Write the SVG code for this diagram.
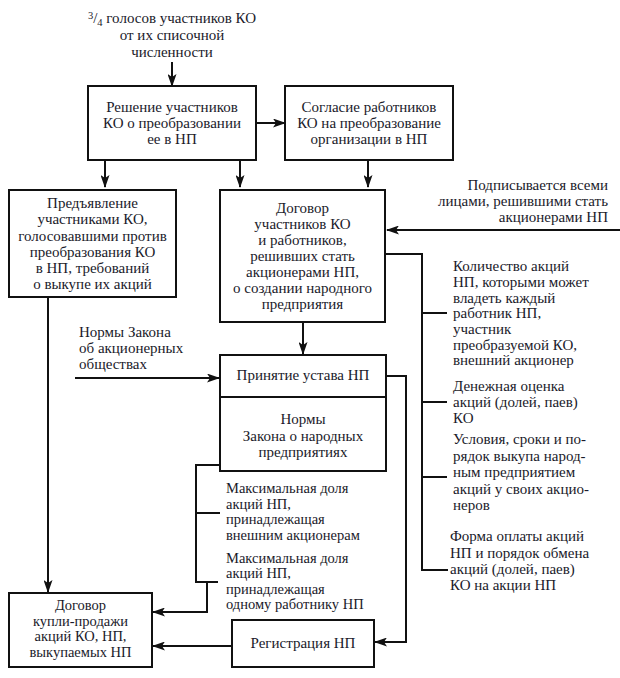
<svg xmlns="http://www.w3.org/2000/svg" width="620" height="678" viewBox="0 0 620 678" font-family="'Liberation Serif', 'DejaVu Serif', serif" font-size="15">
<style>
text{fill:#1a1a2a}
.c{text-anchor:middle}
.r{text-anchor:end}
.s{font-size:14.5px}
.box{fill:#fff;stroke:#111;stroke-width:2}
.ln{fill:none;stroke:#111;stroke-width:2}
.ar{fill:none;stroke:#111;stroke-width:2;marker-end:url(#ah)}
</style>
<defs>
<marker id="ah" markerWidth="13" markerHeight="9" refX="12" refY="4.5" orient="auto" markerUnits="userSpaceOnUse">
<path d="M0,0 L13,4.5 L0,9 L3,4.5 z" fill="#111"/>
</marker>
</defs>
<rect width="620" height="678" fill="#fff"/>

<g id="top-note">
<text class="c" x="172" y="23"><tspan font-size="10.5" dy="-4">3</tspan><tspan dy="4">/</tspan><tspan font-size="10.5" dy="3">4</tspan><tspan dy="-3"> голосов участников КО</tspan></text>
<text class="c" x="172" y="40">от их списочной</text>
<text class="c" x="172" y="57">численности</text>
</g>

<g id="n1">
<rect class="box" x="88" y="86" width="168" height="74"/>
<text class="c" x="172" y="112">Решение участников</text>
<text class="c" x="172" y="128">КО о преобразовании</text>
<text class="c" x="172" y="144">ее в НП</text>
</g>

<g id="n2">
<rect class="box" x="285" y="86" width="168" height="74"/>
<text class="c" x="369" y="112">Согласие работников</text>
<text class="c" x="369" y="128">КО на преобразование</text>
<text class="c" x="369" y="144">организации в НП</text>
</g>

<g id="n3">
<rect class="box" x="9" y="190" width="167" height="107"/>
<text class="c" x="92.5" y="208">Предъявление</text>
<text class="c" x="92.5" y="224">участниками КО,</text>
<text class="c" x="92.5" y="241">голосовавшими против</text>
<text class="c" x="92.5" y="257">преобразования КО</text>
<text class="c" x="92.5" y="273">в НП, требований</text>
<text class="c" x="92.5" y="289">о выкупе их акций</text>
</g>

<g id="n4">
<rect class="box" x="220" y="190" width="165" height="132"/>
<text class="c" x="302.5" y="213">Договор</text>
<text class="c" x="302.5" y="229">участников КО</text>
<text class="c" x="302.5" y="245">и работников,</text>
<text class="c" x="302.5" y="261">решивших стать</text>
<text class="c" x="302.5" y="277">акционерами НП,</text>
<text class="c" x="302.5" y="293">о создании народного</text>
<text class="c" x="302.5" y="309">предприятия</text>
</g>

<g id="note-sign">
<text class="r" x="608" y="190">Подписывается всеми</text>
<text class="r" x="608" y="206">лицами, решившими стать</text>
<text class="r" x="608" y="222">акционерами НП</text>
</g>

<g id="note-law-ao">
<text x="79" y="337">Нормы Закона</text>
<text x="79" y="353">об акционерных</text>
<text x="79" y="369">обществах</text>
</g>

<g id="n5">
<rect class="box" x="220" y="355" width="166" height="116"/>
<line class="ln" x1="220" y1="397" x2="386" y2="397"/>
<text class="c" x="303" y="380">Принятие устава НП</text>
<text class="c" x="303" y="424">Нормы</text>
<text class="c" x="303" y="441">Закона о народных</text>
<text class="c" x="303" y="457">предприятиях</text>
</g>

<g id="notes-right">
<text x="453" y="271">Количество акций</text>
<text x="453" y="287">НП, которыми может</text>
<text x="453" y="302.5">владеть каждый</text>
<text x="453" y="318">работник НП,</text>
<text x="453" y="334">участник</text>
<text x="453" y="349.5">преобразуемой КО,</text>
<text x="453" y="365">внешний акционер</text>
<text x="453" y="391">Денежная оценка</text>
<text x="453" y="407">акций (долей, паев)</text>
<text x="453" y="423">КО</text>
<text x="453" y="444">Условия, сроки и по-</text>
<text x="453" y="461">рядок выкупа народ-</text>
<text x="453" y="477">ным предприятием</text>
<text x="453" y="494">акций у своих акцио-</text>
<text x="453" y="510">неров</text>
<text x="450" y="541">Форма оплаты акций</text>
<text x="450" y="558">НП и порядок обмена</text>
<text x="450" y="574">акций (долей, паев)</text>
<text x="450" y="590">КО на акции НП</text>
</g>

<g id="notes-left">
<text class="s" x="226" y="493">Максимальная доля</text>
<text class="s" x="226" y="508.5">акций НП,</text>
<text class="s" x="226" y="524">принадлежащая</text>
<text class="s" x="226" y="539.5">внешним акционерам</text>
<text class="s" x="226" y="562.5">Максимальная доля</text>
<text class="s" x="226" y="578">акций НП,</text>
<text class="s" x="226" y="593.5">принадлежащая</text>
<text class="s" x="226" y="609">одному работнику НП</text>
</g>

<g id="n6">
<rect class="box" x="9" y="593" width="143" height="74"/>
<text class="c s" x="80.5" y="610">Договор</text>
<text class="c s" x="80.5" y="625.5">купли-продажи</text>
<text class="c s" x="80.5" y="641">акций КО, НП,</text>
<text class="c s" x="80.5" y="656.5">выкупаемых НП</text>
</g>

<g id="n7">
<rect class="box" x="232" y="620" width="142" height="47"/>
<text class="c" x="303" y="648">Регистрация НП</text>
</g>

<g id="connectors">
<line class="ar" x1="172" y1="62" x2="172" y2="86"/>
<line class="ar" x1="256" y1="123" x2="285" y2="123"/>
<line class="ar" x1="105" y1="160" x2="105" y2="187"/>
<line class="ar" x1="240" y1="160" x2="240" y2="187"/>
<line class="ar" x1="368" y1="160" x2="368" y2="187"/>
<line class="ar" x1="620" y1="230" x2="387" y2="230"/>
<polyline class="ln" points="385,254 422,254 422,570 448,570"/>
<line class="ln" x1="422" y1="313" x2="447" y2="313"/>
<line class="ln" x1="422" y1="402" x2="447" y2="402"/>
<line class="ln" x1="422" y1="477" x2="447" y2="477"/>
<line class="ar" x1="303" y1="322" x2="303" y2="354"/>
<line class="ar" x1="75" y1="378" x2="219" y2="378"/>
<polyline class="ar" points="386,376 406,376 406,642 375,642"/>
<polyline class="ln" points="220,465 196,465 196,582 218,582"/>
<line class="ln" x1="196" y1="513" x2="220" y2="513"/>
<polyline class="ar" points="207,582 207,612 153,612"/>
<line class="ar" x1="48" y1="297" x2="48" y2="592"/>
<line class="ar" x1="232" y1="646" x2="153" y2="646"/>
</g>
</svg>
